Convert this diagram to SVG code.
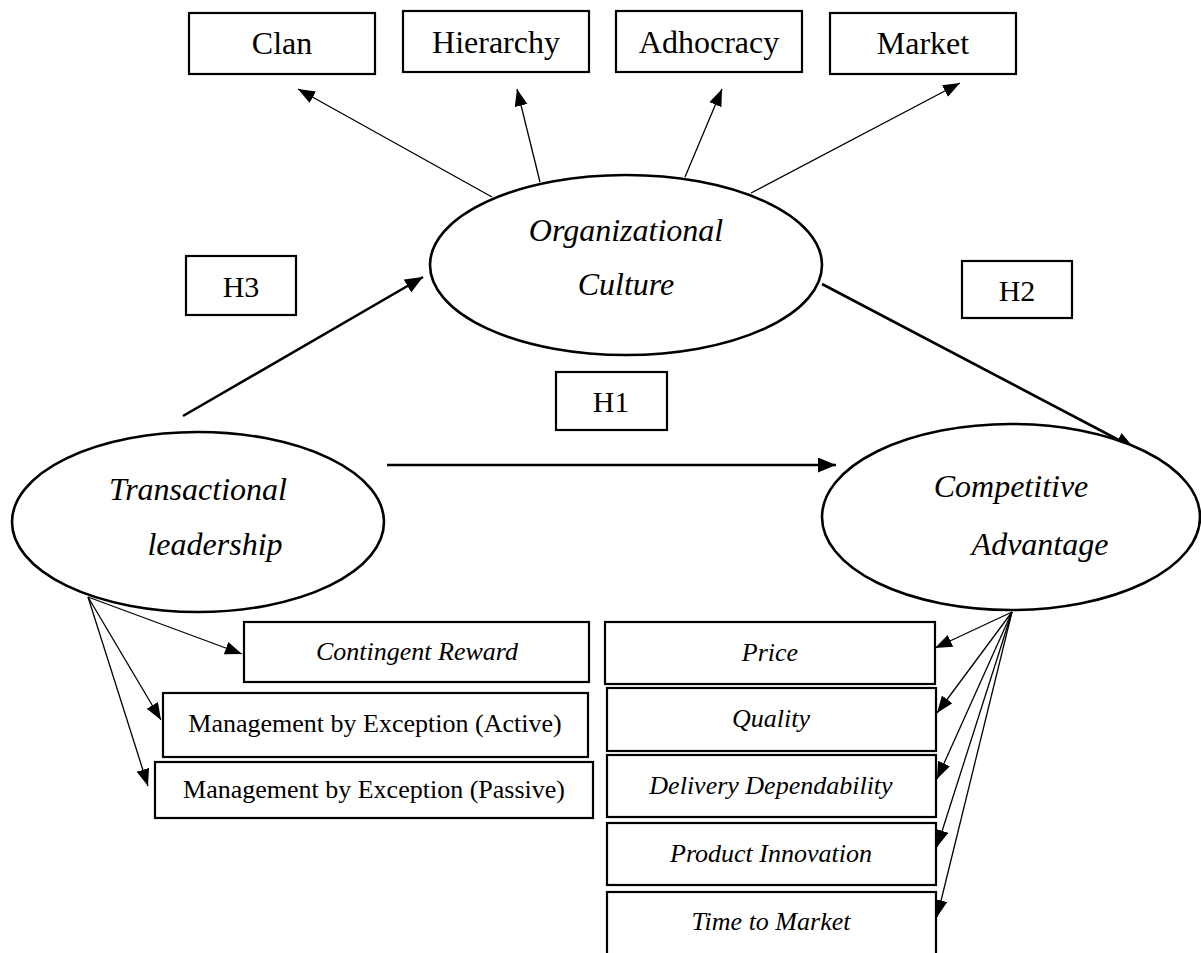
<svg xmlns="http://www.w3.org/2000/svg" width="1201" height="953" viewBox="0 0 1201 953">
<style>
.box{fill:#fff;stroke:#000;stroke-width:2.2}
.ell{fill:#fff;stroke:#000;stroke-width:2.6}
.t{font-family:"Liberation Serif","Times New Roman",serif;fill:#000;text-anchor:middle}
.top{font-size:32px}
.h{font-size:30px}
.el{font-size:32px;font-style:italic}
.sm{font-size:26px}
.it{font-style:italic}
.thin{stroke:#000;stroke-width:1.3;fill:none}
.thick{stroke:#000;stroke-width:2.6;fill:none}
</style>
<defs>
<marker id="a" markerUnits="userSpaceOnUse" markerWidth="18" markerHeight="14" refX="17" refY="6.5" orient="auto"><path d="M0,0 L17,6.5 L0,13 z" fill="#000"/></marker>
<marker id="b" markerUnits="userSpaceOnUse" markerWidth="20" markerHeight="16" refX="18" refY="7.5" orient="auto"><path d="M0,0 L18,7.5 L0,15 z" fill="#000"/></marker>
</defs>
<rect width="1201" height="953" fill="#fff"/>
<g id="connectors">
<line class="thin" x1="492" y1="197" x2="298" y2="89" marker-end="url(#a)"/>
<line class="thin" x1="540" y1="182" x2="517" y2="89" marker-end="url(#a)"/>
<line class="thin" x1="685" y1="177" x2="722" y2="89" marker-end="url(#a)"/>
<line class="thin" x1="751" y1="193" x2="960" y2="83" marker-end="url(#a)"/>
<line class="thick" x1="183" y1="416" x2="423" y2="277" marker-end="url(#b)"/>
<line class="thick" x1="822" y1="284" x2="1134" y2="448" marker-end="url(#b)"/>
<line class="thick" x1="387" y1="465" x2="836" y2="465" marker-end="url(#b)"/>
<line class="thin" x1="88" y1="597" x2="242" y2="654" marker-end="url(#a)"/>
<line class="thin" x1="88" y1="597" x2="161" y2="720" marker-end="url(#a)"/>
<line class="thin" x1="88" y1="597" x2="148" y2="786" marker-end="url(#a)"/>
<line class="thin" x1="1012" y1="612" x2="935" y2="648" marker-end="url(#a)"/>
<line class="thin" x1="1012" y1="612" x2="937" y2="713" marker-end="url(#a)"/>
<line class="thin" x1="1012" y1="612" x2="937" y2="779" marker-end="url(#a)"/>
<line class="thin" x1="1012" y1="612" x2="937" y2="847" marker-end="url(#a)"/>
<line class="thin" x1="1012" y1="612" x2="937" y2="917" marker-end="url(#a)"/>
</g>
<g id="clan"><rect class="box" x="189" y="13" width="186" height="61"/><text class="t top" x="282" y="54">Clan</text></g>
<g id="hierarchy"><rect class="box" x="403" y="11" width="186" height="61"/><text class="t top" x="496" y="53">Hierarchy</text></g>
<g id="adhocracy"><rect class="box" x="616" y="11" width="186" height="61"/><text class="t top" x="709" y="53">Adhocracy</text></g>
<g id="market"><rect class="box" x="830" y="13" width="186" height="61"/><text class="t top" x="923" y="54">Market</text></g>
<g id="org-culture"><ellipse class="ell" cx="626" cy="265" rx="196" ry="90"/><text class="t el" x="626" y="241">Organizational</text><text class="t el" x="626" y="295">Culture</text></g>
<g id="h3"><rect class="box" x="186" y="256" width="110" height="59"/><text class="t h" x="241" y="297">H3</text></g>
<g id="h2"><rect class="box" x="962" y="261" width="110" height="57"/><text class="t h" x="1017" y="301">H2</text></g>
<g id="h1"><rect class="box" x="556" y="372" width="111" height="58"/><text class="t h" x="611" y="412">H1</text></g>
<g id="transactional"><ellipse class="ell" cx="198" cy="522" rx="186" ry="90"/><text class="t el" x="198" y="500">Transactional</text><text class="t el" x="215" y="555">leadership</text></g>
<g id="competitive"><ellipse class="ell" cx="1011" cy="517" rx="189" ry="93"/><text class="t el" x="1011" y="497">Competitive</text><text class="t el" x="1040" y="555">Advantage</text></g>
<g id="contingent-reward"><rect class="box" x="244" y="622" width="345" height="60"/><text class="t sm it" x="417" y="660">Contingent Reward</text></g>
<g id="mbe-active"><rect class="box" x="163" y="693" width="425" height="64"/><text class="t sm" x="375" y="732">Management by Exception (Active)</text></g>
<g id="mbe-passive"><rect class="box" x="155" y="762" width="438" height="56"/><text class="t sm" x="374" y="798">Management by Exception (Passive)</text></g>
<g id="price"><rect class="box" x="605" y="622" width="330" height="62"/><text class="t sm it" x="770" y="661">Price</text></g>
<g id="quality"><rect class="box" x="607" y="688" width="329" height="63"/><text class="t sm it" x="771" y="727">Quality</text></g>
<g id="delivery"><rect class="box" x="607" y="755" width="329" height="62"/><text class="t sm it" x="771" y="794">Delivery Dependability</text></g>
<g id="product-innovation"><rect class="box" x="607" y="823" width="329" height="62"/><text class="t sm it" x="771" y="862">Product Innovation</text></g>
<g id="time-to-market"><rect class="box" x="607" y="892" width="329" height="64"/><text class="t sm it" x="771" y="930">Time to Market</text></g>
</svg>
